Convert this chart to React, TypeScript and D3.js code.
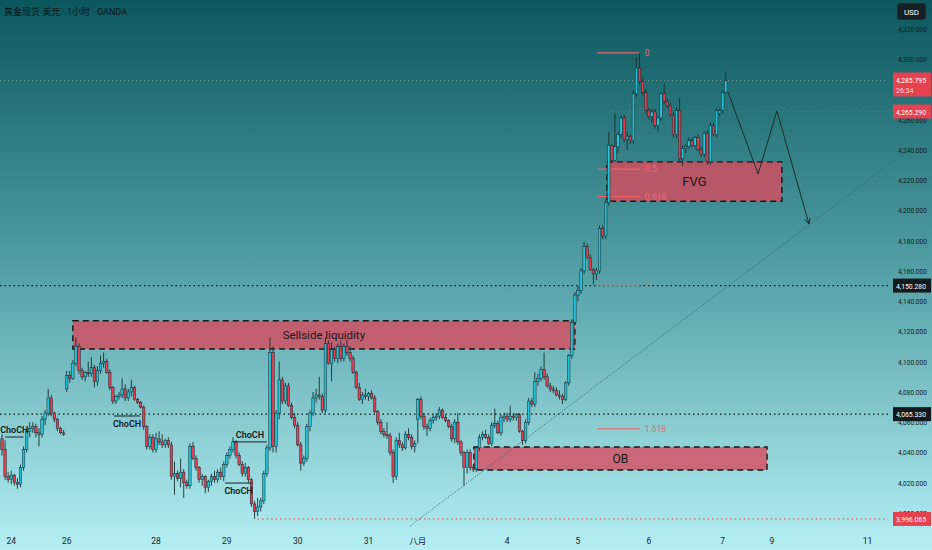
import React, { useEffect, useRef } from 'react';
import * as d3 from 'd3';

// open, high, low, close  (XAUUSD 1h)
type Bar = [number, number, number, number];

const jul23: Bar[] = [
  [4049, 4052, 4038, 4042], [4042, 4048, 4022, 4024], [4024, 4027, 4020, 4022],
];
const jul24: Bar[] = [
  [4022, 4028, 4019, 4025], [4025, 4026, 4018, 4020], [4020, 4023, 4016, 4019],
  [4019, 4032, 4017, 4030], [4030, 4044, 4028, 4042], [4042, 4056, 4040, 4054],
  [4054, 4060, 4050, 4056], [4056, 4060, 4053, 4057], [4057, 4059, 4050, 4053],
  [4053, 4056, 4044, 4052], [4052, 4064, 4050, 4062], [4062, 4068, 4058, 4066],
  [4066, 4082, 4064, 4076], [4076, 4078, 4064, 4066], [4066, 4067, 4060, 4062],
  [4062, 4063, 4054, 4056], [4056, 4057, 4052, 4053], [4053, 4055, 4051, 4052],
];
const jul25: Bar[] = [
  [4082, 4094, 4080, 4091], [4091, 4094, 4086, 4089], [4089, 4101, 4088, 4099],
  [4099, 4116, 4097, 4110], [4110, 4112, 4092, 4094], [4094, 4096, 4088, 4090],
  [4090, 4094, 4087, 4093], [4093, 4100, 4090, 4092], [4092, 4103, 4090, 4096],
  [4096, 4098, 4083, 4087], [4087, 4097, 4084, 4094], [4094, 4104, 4092, 4099],
  [4099, 4106, 4096, 4100], [4100, 4102, 4092, 4093], [4093, 4095, 4081, 4083],
  [4083, 4084, 4072, 4074], [4074, 4078, 4072, 4077], [4077, 4080, 4075, 4078],
  [4078, 4089, 4076, 4082], [4082, 4085, 4074, 4076], [4076, 4082, 4074, 4080],
  [4080, 4088, 4077, 4083], [4083, 4084, 4074, 4075], [4075, 4076, 4072, 4073],
  [4073, 4074, 4069, 4070], [4070, 4071, 4055, 4057], [4057, 4058, 4042, 4044],
  [4044, 4052, 4042, 4050], [4050, 4052, 4040, 4042],
];
const jul28: Bar[] = [
  [4042, 4053, 4040, 4049], [4049, 4054, 4045, 4047], [4047, 4052, 4043, 4045],
  [4045, 4049, 4043, 4048], [4048, 4050, 4043, 4045], [4045, 4047, 4022, 4024],
  [4024, 4034, 4012, 4026], [4026, 4028, 4021, 4023], [4023, 4036, 4017, 4027],
  [4027, 4029, 4010, 4020], [4020, 4022, 4016, 4018], [4018, 4046, 4016, 4044],
  [4044, 4047, 4035, 4036], [4036, 4038, 4028, 4030], [4030, 4031, 4020, 4022],
  [4022, 4026, 4018, 4024], [4024, 4025, 4013, 4017], [4017, 4022, 4014, 4021],
  [4021, 4026, 4018, 4024], [4024, 4028, 4020, 4022], [4022, 4029, 4020, 4027],
  [4027, 4030, 4022, 4024], [4024, 4034, 4021, 4032],
];
const jul29: Bar[] = [
  [4032, 4040, 4030, 4038], [4038, 4044, 4036, 4042], [4042, 4050, 4040, 4047],
  [4047, 4048, 4036, 4038], [4038, 4040, 4031, 4032], [4032, 4034, 4024, 4026],
  [4026, 4033, 4024, 4030], [4030, 4031, 4020, 4022], [4022, 4023, 4004, 4006],
  [4006, 4008, 3996.065, 4001], [4001, 4010, 3998, 4004], [4004, 4010, 4001, 4008],
  [4008, 4028, 4006, 4026], [4026, 4045, 4024, 4043], [4043, 4116, 4041, 4106],
  [4106, 4110, 4040, 4044], [4044, 4068, 4040, 4066], [4066, 4100, 4062, 4088],
  [4088, 4090, 4072, 4074], [4074, 4086, 4072, 4084], [4084, 4086, 4070, 4071],
  [4071, 4073, 4062, 4063], [4063, 4066, 4056, 4058],
];
const jul30: Bar[] = [
  [4058, 4060, 4044, 4045], [4045, 4047, 4028, 4033], [4033, 4038, 4031, 4036],
  [4036, 4059, 4034, 4057], [4057, 4068, 4054, 4066], [4066, 4080, 4064, 4076],
  [4076, 4082, 4073, 4078], [4078, 4090, 4075, 4077], [4077, 4079, 4066, 4068],
  [4068, 4116, 4066, 4112], [4112, 4114, 4098, 4099], [4099, 4113, 4087, 4108],
  [4108, 4110, 4100, 4102], [4102, 4112, 4099, 4110], [4110, 4114, 4100, 4102],
  [4102, 4112, 4100, 4110], [4110, 4115, 4104, 4106], [4106, 4110, 4100, 4102],
  [4102, 4104, 4092, 4093], [4093, 4094, 4082, 4083], [4083, 4086, 4074, 4075],
  [4075, 4080, 4072, 4078], [4078, 4082, 4075, 4077],
];
const jul31: Bar[] = [
  [4077, 4080, 4074, 4079], [4079, 4081, 4075, 4076], [4076, 4078, 4066, 4067],
  [4067, 4068, 4058, 4060], [4060, 4062, 4052, 4054], [4054, 4056, 4050, 4052],
  [4052, 4060, 4049, 4051], [4051, 4053, 4038, 4040], [4040, 4042, 4020, 4024],
  [4024, 4050, 4022, 4048], [4048, 4053, 4043, 4045], [4045, 4047, 4041, 4043],
  [4043, 4054, 4042, 4052], [4052, 4056, 4048, 4050], [4050, 4052, 4042, 4044],
  [4044, 4048, 4040, 4046],
];
const aug1: Bar[] = [
  [4062, 4076, 4046, 4075], [4075, 4077, 4062, 4064], [4064, 4066, 4055, 4057],
  [4057, 4059, 4051, 4056], [4056, 4063, 4054, 4061], [4061, 4065, 4059, 4063],
  [4063, 4066, 4061, 4064], [4064, 4070, 4062, 4068], [4068, 4069, 4062, 4063],
  [4063, 4065, 4060, 4061], [4061, 4062, 4056, 4057], [4057, 4059, 4047, 4049],
  [4049, 4062, 4046, 4060], [4060, 4066, 4045, 4047], [4047, 4048, 4038, 4040],
  [4040, 4041, 4018, 4030], [4030, 4042, 4026, 4040], [4040, 4042, 4028, 4030],
  [4030, 4032, 4027, 4029], [4029, 4044, 4027, 4043], [4043, 4052, 4041, 4050],
  [4050, 4054, 4048, 4052], [4052, 4055, 4049, 4050], [4050, 4052, 4045, 4046],
  [4046, 4060, 4044, 4058], [4058, 4069, 4056, 4059], [4059, 4061, 4052, 4053],
  [4053, 4065, 4051, 4063], [4063, 4066, 4060, 4064],
];
const aug4: Bar[] = [
  [4064, 4066, 4060, 4062], [4062, 4071, 4060, 4064], [4064, 4066, 4061, 4063],
  [4063, 4066, 4061, 4065], [4065, 4066, 4053, 4054], [4054, 4055, 4045, 4048],
  [4048, 4062, 4046, 4060], [4060, 4076, 4058, 4074], [4074, 4076, 4070, 4072],
  [4072, 4093, 4070, 4087], [4087, 4092, 4084, 4089], [4089, 4097, 4087, 4095],
  [4095, 4106, 4088, 4090], [4090, 4092, 4083, 4084], [4084, 4086, 4080, 4082],
  [4082, 4084, 4079, 4081], [4081, 4083, 4077, 4078], [4078, 4081, 4075, 4077],
  [4077, 4079, 4072, 4075], [4075, 4087, 4074, 4086], [4086, 4105, 4084, 4104],
  [4104, 4128, 4102, 4126], [4126, 4146, 4124, 4144],
];
const aug5: Bar[] = [
  [4144, 4150, 4140, 4147], [4147, 4162, 4145, 4160], [4160, 4179, 4158, 4176],
  [4176, 4178, 4168, 4169], [4169, 4171, 4160, 4161], [4161, 4162, 4151, 4158],
  [4158, 4162, 4154, 4160], [4160, 4190, 4158, 4188], [4188, 4190, 4181, 4183],
  [4183, 4207, 4181, 4205], [4205, 4252, 4203, 4243], [4243, 4244, 4231, 4233],
  [4233, 4264, 4232, 4242], [4242, 4252, 4238, 4250], [4250, 4263, 4248, 4261],
  [4261, 4263, 4245, 4247], [4247, 4252, 4240, 4249], [4249, 4250, 4244, 4246],
  [4246, 4279, 4244, 4277], [4277, 4301, 4275, 4294], [4294, 4304, 4283, 4285],
  [4285, 4288, 4276, 4278], [4278, 4280, 4264, 4266],
];
const aug6: Bar[] = [
  [4266, 4268, 4260, 4262], [4262, 4267, 4258, 4265], [4265, 4267, 4254, 4256],
  [4256, 4262, 4252, 4261], [4261, 4278, 4259, 4277], [4277, 4284, 4270, 4272],
  [4272, 4274, 4268, 4269], [4269, 4271, 4262, 4263], [4263, 4265, 4248, 4250],
  [4250, 4268, 4248, 4266], [4266, 4274, 4232, 4234], [4234, 4243, 4229, 4241],
  [4241, 4244, 4238, 4242], [4242, 4248, 4241, 4246], [4246, 4248, 4242, 4243],
  [4243, 4249, 4241, 4248], [4248, 4250, 4239, 4240], [4240, 4242, 4235, 4237],
  [4237, 4252, 4235, 4251], [4251, 4253, 4230, 4232], [4232, 4258, 4230, 4256],
  [4256, 4258, 4249, 4250], [4250, 4267, 4248, 4266], [4264, 4267, 4262, 4266],
];
const aug7: Bar[] = [
  [4266, 4279, 4264, 4278], [4278, 4292, 4277, 4285.795],
];

const days = [
  { label: '', bars: jul23 },
  { label: '24', bars: jul24 },
  { label: '26', bars: jul25 },
  { label: '28', bars: jul28 },
  { label: '29', bars: jul29 },
  { label: '30', bars: jul30 },
  { label: '31', bars: jul31 },
  { label: '八月', bars: aug1 },
  { label: '4', bars: aug4 },
  { label: '5', bars: aug5 },
  { label: '6', bars: aug6 },
  { label: '7', bars: aug7 },
];
const futureLabels = ['9', '11'];
const futureBars = [250, 281];

const priceTicks = d3.range(4000, 4321, 20);
const lastPrice = 4285.795;
const countdown = '26:34';
const redLevel = 4265.29;
const blackLevels = [4150.28, 4065.33];
const lowLevel = 3996.065;

// zones: bar index range, price range
const zones = [
  { name: 'Sellside liquidity', from: 23, to: 186, top: 4127, bottom: 4108.4, size: 11.5 },
  { name: 'FVG', from: 196.4, to: 253.2, top: 4232, bottom: 4206, size: 13 },
  { name: 'OB', from: 153.2, to: 248.4, top: 4043.6, bottom: 4028.4, size: 12 },
];
const choch = [
  { from: 1, to: 7, price: 4050.2, above: true },
  { from: 36.4, to: 44.8, price: 4064.1, above: false },
  { from: 75, to: 86, price: 4047, above: true },
  { from: 72.4, to: 81.2, price: 4019.8, above: false },
];
const fibLevels = [0, 0.5, 0.618, 1, 1.618];
const fibHigh = 4304;
const fibLow = 4150.5;
const fibFrom = 193.2;
const fibTo = 207.1;
const trendBars = [132.5, 290];
const trendPrices = [3991.4, 4233.3];
const pathBars = [235.7, 245.5, 251.6, 262];
const pathPrices = [4278.3, 4224, 4265.7, 4191];

const W = 932;
const H = 550;
const FONT = "Roboto, 'Noto Sans CJK SC', sans-serif";

const fmt = (v: number) => d3.format(',.3f')(v);

const App = () => {
  const svgRef = useRef<SVGSVGElement>(null);

  useEffect(() => {
    const svg = d3.select(svgRef.current);
    svg.selectAll('*').remove();

    const bars: Bar[] = days.flatMap((d) => d.bars);
    const starts: number[] = [];
    days.reduce((acc, d) => { starts.push(acc); return acc + d.bars.length; }, 0);

    const x = d3.scaleLinear().domain([0, 100]).range([2, 2 + 100 * 3.08]);
    const y = d3.scaleLinear().domain([4000, 4300]).range([513, 59]);
    const plotRight = 888;

    const defs = svg.append('defs');
    const grad = defs.append('linearGradient').attr('id', 'bg').attr('x1', 0).attr('y1', 0).attr('x2', 0).attr('y2', 1);
    grad.append('stop').attr('offset', '0%').attr('stop-color', '#0a585d');
    grad.append('stop').attr('offset', '45%').attr('stop-color', '#4b9aa0');
    grad.append('stop').attr('offset', '100%').attr('stop-color', '#b4eff5');
    defs.append('marker').attr('id', 'arrow').attr('viewBox', '0 0 10 10').attr('refX', 9).attr('refY', 5)
      .attr('markerWidth', 7).attr('markerHeight', 7).attr('orient', 'auto-start-reverse')
      .append('path').attr('d', 'M1,1 L9,5 L1,9').attr('fill', 'none').attr('stroke', '#1c2b2e').attr('stroke-width', 1.3);

    svg.append('rect').attr('width', W).attr('height', H).attr('fill', 'url(#bg)');

    // level lines
    svg.append('line').attr('x1', 0).attr('x2', plotRight).attr('y1', y(lastPrice)).attr('y2', y(lastPrice))
      .attr('stroke', '#8aa3a6').attr('stroke-width', 1).attr('stroke-dasharray', '1,3').attr('opacity', 0.8);
    svg.append('line').attr('x1', x(198)).attr('x2', plotRight).attr('y1', y(redLevel)).attr('y2', y(redLevel))
      .attr('stroke', '#e8374d').attr('stroke-width', 1).attr('stroke-dasharray', '1.5,3');
    blackLevels.forEach((p) => {
      svg.append('line').attr('x1', 0).attr('x2', plotRight).attr('y1', y(p)).attr('y2', y(p))
        .attr('stroke', '#0d1416').attr('stroke-width', 1.3).attr('stroke-dasharray', '1.5,3');
    });
    svg.append('line').attr('x1', x(83)).attr('x2', plotRight).attr('y1', y(lowLevel)).attr('y2', y(lowLevel))
      .attr('stroke', '#e8374d').attr('stroke-width', 1).attr('stroke-dasharray', '1.5,3');

    // zones
    zones.forEach((z) => {
      svg.append('rect').attr('x', x(z.from)).attr('y', y(z.top))
        .attr('width', x(z.to) - x(z.from)).attr('height', y(z.bottom) - y(z.top))
        .attr('fill', '#d84b5c').attr('fill-opacity', 0.8)
        .attr('stroke', '#14191a').attr('stroke-width', 1.4).attr('stroke-dasharray', '6,4');
    });

    // trend line
    svg.append('line').attr('x1', x(trendBars[0])).attr('y1', y(trendPrices[0]))
      .attr('x2', x(trendBars[1])).attr('y2', y(trendPrices[1]))
      .attr('stroke', '#2f5f66').attr('stroke-width', 0.9).attr('stroke-dasharray', '1.2,1.6');

    // fib levels
    svg.append('line').attr('x1', x(fibFrom)).attr('y1', y(fibLow)).attr('x2', x(fibTo)).attr('y2', y(fibHigh))
      .attr('stroke', '#d9606c').attr('stroke-width', 0.8).attr('stroke-dasharray', '1,2').attr('opacity', 0.5);
    fibLevels.forEach((f) => {
      const p = fibHigh - f * (fibHigh - fibLow);
      svg.append('line').attr('x1', x(fibFrom)).attr('x2', x(fibTo)).attr('y1', y(p)).attr('y2', y(p))
        .attr('stroke', '#f2606f').attr('stroke-width', 1.2);
    });

    // candles
    const g = svg.append('g');
    bars.forEach(([o, h, l, c], i) => {
      const cx = x(i);
      const up = c >= o;
      g.append('line').attr('x1', cx).attr('x2', cx).attr('y1', y(h)).attr('y2', y(l))
        .attr('stroke', '#1a2d31').attr('stroke-width', 0.9);
      const top = y(Math.max(o, c));
      g.append('rect').attr('x', cx - 1.25).attr('width', 2.5).attr('y', top)
        .attr('height', Math.max(1, y(Math.min(o, c)) - top))
        .attr('fill', up ? '#22c4d8' : '#e63e51').attr('stroke', '#12262a').attr('stroke-width', 0.5);
    });

    // fib labels above candles
    fibLevels.forEach((f) => {
      const p = fibHigh - f * (fibHigh - fibLow);
      svg.append('text').attr('x', x(fibTo) + 5).attr('y', y(p) + 3)
        .attr('font-family', FONT).attr('font-size', 8.5).attr('fill', '#f46575').text(String(f));
    });

    // zone labels
    zones.forEach((z) => {
      svg.append('text').attr('x', x((z.from + z.to) / 2)).attr('y', y((z.top + z.bottom) / 2) + z.size * 0.36)
        .attr('text-anchor', 'middle').attr('font-family', FONT).attr('font-size', z.size)
        .attr('fill', '#15191a').text(z.name);
    });

    // ChoCH marks
    choch.forEach((m) => {
      svg.append('line').attr('x1', x(m.from)).attr('x2', x(m.to)).attr('y1', y(m.price)).attr('y2', y(m.price))
        .attr('stroke', '#1a2427').attr('stroke-width', 1);
      svg.append('text').attr('x', x((m.from + m.to) / 2)).attr('y', y(m.price) + (m.above ? -4 : 11))
        .attr('text-anchor', 'middle').attr('font-family', FONT).attr('font-size', 9).attr('font-weight', 600)
        .attr('fill', '#15191a').text('ChoCH');
    });

    // projected path
    const line = d3.line<number>().x((d, i) => x(pathBars[i])).y((d) => y(d));
    svg.append('path').attr('d', line(pathPrices)).attr('fill', 'none')
      .attr('stroke', '#1c2b2e').attr('stroke-width', 1).attr('marker-end', 'url(#arrow)');

    // price axis
    priceTicks.forEach((t) => {
      svg.append('text').attr('x', 898).attr('y', y(t) + 3).attr('font-family', FONT)
        .attr('font-size', 7.2).attr('fill', '#111b1d')
        .attr('textLength', 29).attr('lengthAdjust', 'spacingAndGlyphs').text(fmt(t));
    });
    const tag = (p: number, color: string, txt: string) => {
      svg.append('rect').attr('x', 893).attr('y', y(p) - 7).attr('width', 38).attr('height', 14).attr('fill', color);
      svg.append('text').attr('x', 896).attr('y', y(p) + 3).attr('font-family', FONT)
        .attr('font-size', 7.2).attr('fill', '#ffffff')
        .attr('textLength', 30).attr('lengthAdjust', 'spacingAndGlyphs').text(txt);
    };
    svg.append('rect').attr('x', 893).attr('y', y(lastPrice) - 8).attr('width', 38).attr('height', 24).attr('fill', '#e5414f');
    svg.append('text').attr('x', 896).attr('y', y(lastPrice) + 3).attr('font-family', FONT)
      .attr('font-size', 7.2).attr('fill', '#ffffff')
      .attr('textLength', 30).attr('lengthAdjust', 'spacingAndGlyphs').text(fmt(lastPrice));
    svg.append('text').attr('x', 896).attr('y', y(lastPrice) + 13).attr('font-family', FONT)
      .attr('font-size', 7).attr('fill', '#ffd9dc').text(countdown);
    tag(redLevel, '#e5414f', fmt(redLevel));
    blackLevels.forEach((p) => tag(p, '#131a1c', fmt(p)));
    tag(lowLevel, '#e5414f', fmt(lowLevel));

    svg.append('rect').attr('x', 897).attr('y', 3).attr('width', 29).attr('height', 17).attr('rx', 3)
      .attr('fill', '#142023').attr('stroke', '#3a4a4d').attr('stroke-width', 0.6);
    svg.append('text').attr('x', 911.5).attr('y', 14.5).attr('text-anchor', 'middle').attr('font-family', FONT)
      .attr('font-size', 8).attr('fill', '#ffffff').text('USD');

    // time axis
    days.forEach((d, k) => {
      if (!d.label) return;
      svg.append('text').attr('x', x(starts[k])).attr('y', 544).attr('text-anchor', 'middle')
        .attr('font-family', FONT).attr('font-size', 8.5).attr('fill', '#1b2426').text(d.label);
    });
    futureLabels.forEach((lab, k) => {
      svg.append('text').attr('x', x(futureBars[k])).attr('y', 544).attr('text-anchor', 'middle')
        .attr('font-family', FONT).attr('font-size', 8.5).attr('fill', '#1b2426').text(lab);
    });

    // title
    svg.append('text').attr('x', 4).attr('y', 15).attr('font-family', FONT).attr('font-size', 9)
      .attr('fill', '#0c1416').text('黄金现货 美元 · 1小时 · OANDA');
  }, []);

  return <svg ref={svgRef} width={W} height={H} style={{ position: 'absolute', left: 0, top: 0 }}></svg>;
};

export default App;
